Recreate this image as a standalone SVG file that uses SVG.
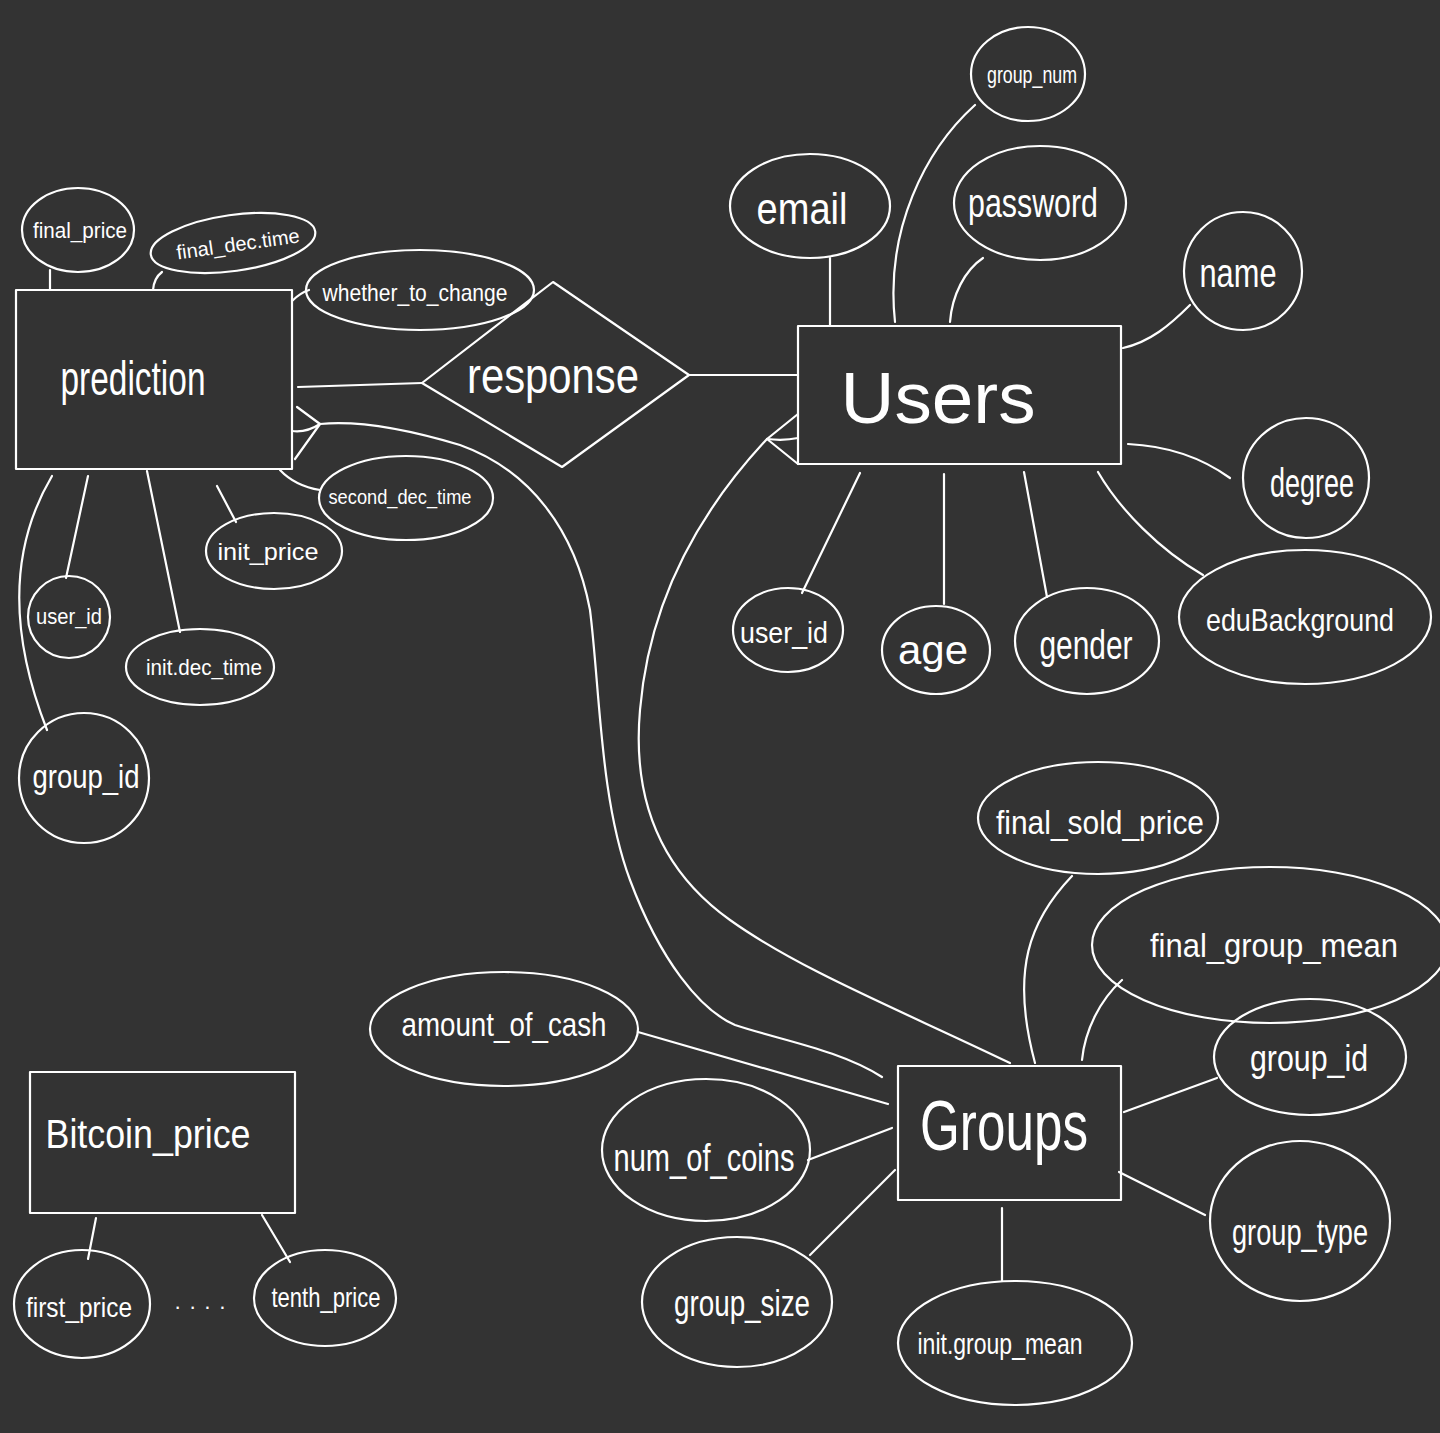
<svg xmlns="http://www.w3.org/2000/svg" width="1440" height="1433" viewBox="0 0 1440 1433">
  <style>
    .shape { fill: none; stroke: #ffffff; stroke-width: 2.2; stroke-linecap: round; stroke-linejoin: round; }
    .link { fill: none; stroke: #ffffff; stroke-width: 2.2; stroke-linecap: round; stroke-linejoin: round; }
    text { fill: #ffffff; font-family: "Liberation Sans", "DejaVu Sans", sans-serif; text-anchor: middle; dominant-baseline: central; }
  </style>
  <rect x="0" y="0" width="1440" height="1433" fill="#333333"/>

  <!-- connectors -->
  <g id="connectors">
    <!-- prediction attributes -->
    <path class="link" d="M50,270 L50,290"/>
    <path class="link" d="M162,272 Q154,278 153,290"/>
    <path class="link" d="M292,301 Q300,293 309,290"/>
    <path class="link" d="M280,470 Q295,486 320,490"/>
    <path class="link" d="M217,486 L236,522"/>
    <path class="link" d="M88,476 L66,578"/>
    <path class="link" d="M147,471 L180,632"/>
    <path class="link" d="M52,476 C20,530 0,610 47,730"/>
    <!-- prediction - response - Users -->
    <path class="link" d="M298,387 L422,383"/>
    <path class="link" d="M689,375 L798,375"/>
    <!-- prediction many-side to Groups -->
    <path class="link" d="M297,407 L320,424 L295,459"/>
    <path class="link" d="M292,431 Q306,433 320,424"/>
    <path class="link" d="M320,424 C360,420 410,430 460,445 C530,470 575,530 590,610 C600,690 600,800 630,880 C660,960 700,1010 735,1025 C780,1040 840,1050 882,1077"/>
    <!-- Users many-side to Groups -->
    <path class="link" d="M798,414 L767,439 L798,464"/>
    <path class="link" d="M767,439 Q784,441 798,438"/>
    <path class="link" d="M767,439 C710,500 650,590 640,710 C632,800 660,870 730,920 C800,970 900,1010 1010,1063"/>
    <!-- Users attributes -->
    <path class="link" d="M830,258 L830,326"/>
    <path class="link" d="M975,105 C925,150 885,230 895,322"/>
    <path class="link" d="M983,258 C965,270 952,295 950,322"/>
    <path class="link" d="M1190,305 C1170,325 1150,342 1123,348"/>
    <path class="link" d="M1128,444 C1170,446 1205,460 1230,478"/>
    <path class="link" d="M1098,472 C1120,510 1160,550 1203,575"/>
    <path class="link" d="M1024,472 L1047,597"/>
    <path class="link" d="M944,474 L944,604"/>
    <path class="link" d="M860,473 L802,593"/>
    <!-- Groups attributes -->
    <path class="link" d="M1072,876 C1030,920 1010,970 1035,1063"/>
    <path class="link" d="M1122,980 C1100,1000 1085,1030 1082,1060"/>
    <path class="link" d="M1124,1112 L1217,1078"/>
    <path class="link" d="M1119,1172 L1205,1215"/>
    <path class="link" d="M1002,1208 L1002,1281"/>
    <path class="link" d="M895,1170 L810,1255"/>
    <path class="link" d="M808,1160 L892,1128"/>
    <path class="link" d="M638,1032 L888,1104"/>
    <!-- Bitcoin_price attributes -->
    <path class="link" d="M96,1218 L88,1259"/>
    <path class="link" d="M262,1215 L290,1262"/>
  </g>

  <!-- entities -->
  <g id="prediction">
    <rect class="shape" x="16" y="290" width="276" height="179"/>
    <text x="133" y="378" font-size="48" textLength="145" lengthAdjust="spacingAndGlyphs">prediction</text>
  </g>
  <g id="response">
    <polygon class="shape" points="422,383 553,282 689,375 562,467"/>
    <text x="553" y="376" font-size="50" textLength="172" lengthAdjust="spacingAndGlyphs">response</text>
  </g>
  <g id="users">
    <rect class="shape" x="798" y="326" width="323" height="138"/>
    <text x="938" y="398" font-size="72" textLength="195" lengthAdjust="spacingAndGlyphs">Users</text>
  </g>
  <g id="groups">
    <rect class="shape" x="898" y="1066" width="223" height="134"/>
    <text x="1004" y="1126" font-size="70" textLength="168" lengthAdjust="spacingAndGlyphs">Groups</text>
  </g>
  <g id="bitcoin-price">
    <rect class="shape" x="30" y="1072" width="265" height="141"/>
    <text x="148" y="1134" font-size="40" textLength="205" lengthAdjust="spacingAndGlyphs">Bitcoin_price</text>
  </g>

  <!-- prediction attributes -->
  <g id="attr-final-price">
    <ellipse class="shape" cx="78" cy="230" rx="56" ry="42"/>
    <text x="80" y="230" font-size="22" textLength="94" lengthAdjust="spacingAndGlyphs">final_price</text>
  </g>
  <g id="attr-final-dec-time">
    <ellipse class="shape" cx="233" cy="243" rx="83" ry="28" transform="rotate(-8 233 243)"/>
    <text x="238" y="244" font-size="20" textLength="124" lengthAdjust="spacingAndGlyphs" transform="rotate(-8 238 244)">final_dec.time</text>
  </g>
  <g id="attr-whether-to-change">
    <ellipse class="shape" cx="420" cy="290" rx="114" ry="40"/>
    <text x="415" y="292" font-size="24" textLength="185" lengthAdjust="spacingAndGlyphs">whether_to_change</text>
  </g>
  <g id="attr-second-dec-time">
    <ellipse class="shape" cx="406" cy="498" rx="87" ry="42"/>
    <text x="400" y="497" font-size="20" textLength="143" lengthAdjust="spacingAndGlyphs">second_dec_time</text>
  </g>
  <g id="attr-init-price">
    <ellipse class="shape" cx="274" cy="551" rx="68" ry="38"/>
    <text x="268" y="551" font-size="24" textLength="101" lengthAdjust="spacingAndGlyphs">init_price</text>
  </g>
  <g id="attr-pred-user-id">
    <circle class="shape" cx="69" cy="617" r="41"/>
    <text x="69" y="616" font-size="22" textLength="66" lengthAdjust="spacingAndGlyphs">user_id</text>
  </g>
  <g id="attr-init-dec-time">
    <ellipse class="shape" cx="200" cy="667" rx="74" ry="38"/>
    <text x="204" y="667" font-size="22" textLength="116" lengthAdjust="spacingAndGlyphs">init.dec_time</text>
  </g>
  <g id="attr-pred-group-id">
    <circle class="shape" cx="84" cy="778" r="65"/>
    <text x="86" y="776" font-size="34" textLength="107" lengthAdjust="spacingAndGlyphs">group_id</text>
  </g>

  <!-- Users attributes -->
  <g id="attr-email">
    <ellipse class="shape" cx="810" cy="206" rx="80" ry="52"/>
    <text x="802" y="208" font-size="44" textLength="91" lengthAdjust="spacingAndGlyphs">email</text>
  </g>
  <g id="attr-group-num">
    <ellipse class="shape" cx="1028" cy="74" rx="57" ry="47"/>
    <text x="1032" y="74" font-size="24" textLength="90" lengthAdjust="spacingAndGlyphs">group_num</text>
  </g>
  <g id="attr-password">
    <ellipse class="shape" cx="1040" cy="203" rx="86" ry="57"/>
    <text x="1033" y="203" font-size="40" textLength="130" lengthAdjust="spacingAndGlyphs">password</text>
  </g>
  <g id="attr-name">
    <circle class="shape" cx="1243" cy="271" r="59"/>
    <text x="1238" y="273" font-size="40" textLength="77" lengthAdjust="spacingAndGlyphs">name</text>
  </g>
  <g id="attr-degree">
    <ellipse class="shape" cx="1306" cy="478" rx="63" ry="60"/>
    <text x="1312" y="483" font-size="40" textLength="84" lengthAdjust="spacingAndGlyphs">degree</text>
  </g>
  <g id="attr-edu-background">
    <ellipse class="shape" cx="1305" cy="617" rx="126" ry="67"/>
    <text x="1300" y="620" font-size="32" textLength="188" lengthAdjust="spacingAndGlyphs">eduBackground</text>
  </g>
  <g id="attr-gender">
    <ellipse class="shape" cx="1087" cy="641" rx="72" ry="53"/>
    <text x="1086" y="645" font-size="40" textLength="93" lengthAdjust="spacingAndGlyphs">gender</text>
  </g>
  <g id="attr-age">
    <ellipse class="shape" cx="936" cy="650" rx="54" ry="44"/>
    <text x="933" y="650" font-size="40" textLength="70" lengthAdjust="spacingAndGlyphs">age</text>
  </g>
  <g id="attr-users-user-id">
    <ellipse class="shape" cx="788" cy="630" rx="55" ry="42"/>
    <text x="784" y="632" font-size="30" textLength="88" lengthAdjust="spacingAndGlyphs">user_id</text>
  </g>

  <!-- Groups attributes -->
  <g id="attr-final-sold-price">
    <ellipse class="shape" cx="1098" cy="818" rx="120" ry="56"/>
    <text x="1100" y="822" font-size="34" textLength="208" lengthAdjust="spacingAndGlyphs">final_sold_price</text>
  </g>
  <g id="attr-final-group-mean">
    <ellipse class="shape" cx="1270" cy="945" rx="178" ry="78"/>
    <text x="1274" y="945" font-size="34" textLength="248" lengthAdjust="spacingAndGlyphs">final_group_mean</text>
  </g>
  <g id="attr-groups-group-id">
    <ellipse class="shape" cx="1310" cy="1057" rx="96" ry="58"/>
    <text x="1309" y="1058" font-size="36" textLength="118" lengthAdjust="spacingAndGlyphs">group_id</text>
  </g>
  <g id="attr-group-type">
    <ellipse class="shape" cx="1300" cy="1221" rx="90" ry="80"/>
    <text x="1300" y="1232" font-size="36" textLength="136" lengthAdjust="spacingAndGlyphs">group_type</text>
  </g>
  <g id="attr-init-group-mean">
    <ellipse class="shape" cx="1015" cy="1343" rx="117" ry="62"/>
    <text x="1000" y="1343" font-size="30" textLength="165" lengthAdjust="spacingAndGlyphs">init.group_mean</text>
  </g>
  <g id="attr-group-size">
    <ellipse class="shape" cx="737" cy="1302" rx="95" ry="65"/>
    <text x="742" y="1303" font-size="36" textLength="136" lengthAdjust="spacingAndGlyphs">group_size</text>
  </g>
  <g id="attr-num-of-coins">
    <ellipse class="shape" cx="706" cy="1150" rx="104" ry="71"/>
    <text x="704" y="1158" font-size="38" textLength="181" lengthAdjust="spacingAndGlyphs">num_of_coins</text>
  </g>
  <g id="attr-amount-of-cash">
    <ellipse class="shape" cx="504" cy="1029" rx="134" ry="57"/>
    <text x="504" y="1024" font-size="34" textLength="205" lengthAdjust="spacingAndGlyphs">amount_of_cash</text>
  </g>

  <!-- Bitcoin_price attributes -->
  <g id="attr-first-price">
    <ellipse class="shape" cx="82" cy="1304" rx="68" ry="54"/>
    <text x="79" y="1307" font-size="28" textLength="106" lengthAdjust="spacingAndGlyphs">first_price</text>
  </g>
  <g id="attr-tenth-price">
    <ellipse class="shape" cx="325" cy="1298" rx="71" ry="48"/>
    <text x="326" y="1297" font-size="28" textLength="109" lengthAdjust="spacingAndGlyphs">tenth_price</text>
  </g>
  <text x="200" y="1306" font-size="22" textLength="52" lengthAdjust="spacing">· · · ·</text>
</svg>
